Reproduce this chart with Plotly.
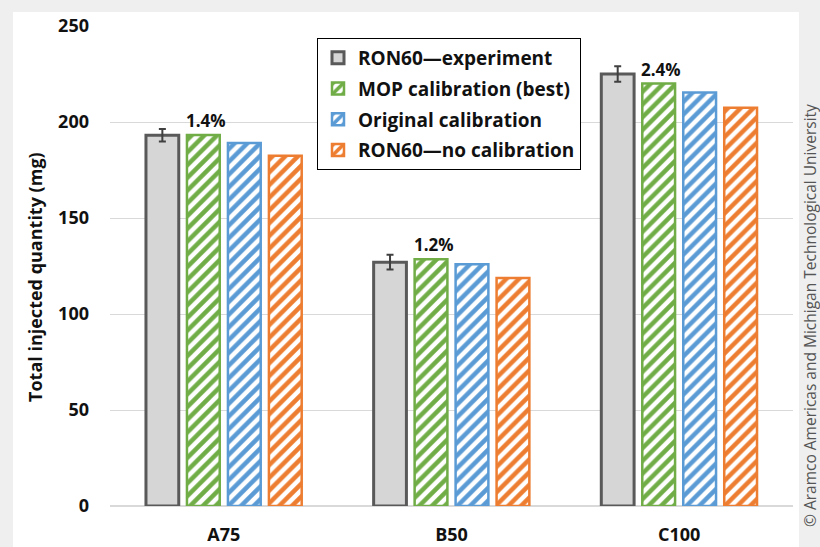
import plotly.graph_objects as go

categories = ["A75", "B50", "C100"]
series_names = ["RON60—experiment", "MOP calibration (best)", "Original calibration", "RON60—no calibration"]
experiment = [193.1, 127.0, 225.0]
experiment_err = [3.2, 3.8, 4.0]
mop_best = [193.2, 128.5, 220.0]
original = [189.0, 125.9, 215.3]
no_calib = [182.4, 118.8, 207.4]
pct_labels = ["1.4%", "1.2%", "2.4%"]
y_ticks = [0, 50, 100, 150, 200, 250]

FONT = "Open Sans"
W, H = 820, 547
ML, MR, MT, MB = 110, 27, 26, 41
PW = W - ML - MR
PH = H - MT - MB

def px_x(px):
    return (px - ML) / PW

def px_y(py):
    return (H - MB - py) / PH

fig = go.Figure()

fig.add_trace(go.Bar(
    name=series_names[0], x=categories, y=experiment,
    marker=dict(color="#d6d6d6", line=dict(color="#595959", width=3)),
    error_y=dict(type="data", array=experiment_err, color="#404040", thickness=2, width=3.5),
    legendgroup="g1",
))
stripe = [(series_names[1], mop_best, "#70ad47", "g2"),
          (series_names[2], original, "#5b9bd5", "g3"),
          (series_names[3], no_calib, "#ed7d31", "g4")]
for name, vals, col, grp in stripe:
    fig.add_trace(go.Bar(
        name=name, x=categories, y=vals,
        marker=dict(color="white", line=dict(color=col, width=2.5),
                    pattern=dict(shape="/", fgcolor=col, bgcolor="white", size=9,
                                 solidity=0.5, fgopacity=1)),
        legendgroup=grp,
    ))

for cat, v, t in zip(categories, mop_best, pct_labels):
    fig.add_annotation(x=cat, y=v, text="<b>%s</b>" % t, showarrow=False,
                       xshift=-18, yanchor="bottom", yshift=1,
                       font=dict(family=FONT, size=17, color="#111"))

# y axis title
fig.add_annotation(xref="paper", yref="paper", x=px_x(35), y=px_y(277),
                   text="<b>Total injected quantity (mg)</b>", textangle=-90, showarrow=False,
                   xanchor="center", yanchor="middle",
                   font=dict(family=FONT, size=18, color="#111"))

# credit
fig.add_annotation(xref="paper", yref="paper", x=px_x(810), y=px_y(316),
                   text="© Aramco Americas and Michigan Technological University", textangle=-90,
                   showarrow=False, xanchor="center", yanchor="middle",
                   font=dict(family=FONT, size=15.5, color="#555"))

# white card
fig.add_shape(type="rect", xref="paper", yref="paper", layer="below",
              x0=px_x(13), x1=px_x(799), y0=px_y(560), y1=px_y(12),
              fillcolor="white", line=dict(width=0))

fig.update_layout(
    width=W, height=H,
    margin=dict(l=ML, r=MR, t=MT, b=MB, autoexpand=False),
    paper_bgcolor="#efefef", plot_bgcolor="white",
    barmode="group", bargap=0.28, bargroupgap=0.2,
    font=dict(family=FONT, color="#111"),
    legend=dict(x=px_x(317), y=px_y(38), xanchor="left", yanchor="top",
                bgcolor="white", bordercolor="black", borderwidth=1,
                font=dict(family=FONT, size=19, color="#111", weight="bold"),
                tracegroupgap=3, traceorder="grouped"),
    showlegend=True,
)
fig.update_xaxes(showgrid=False, showline=False, zeroline=False, ticks="", automargin=False,
                 tickfont=dict(family=FONT, size=18, color="#111", weight="bold"),
                 ticklabelstandoff=16)
fig.update_yaxes(range=[0, 250], tickvals=y_ticks, showgrid=True, gridcolor="#d9d9d9", gridwidth=1,
                 zeroline=True, zerolinecolor="#d9d9d9", zerolinewidth=1.5, showline=False, ticks="",
                 automargin=False,
                 tickfont=dict(family=FONT, size=18, color="#111", weight="bold"),
                 ticklabelstandoff=20)

fig.write_html("out.html")
